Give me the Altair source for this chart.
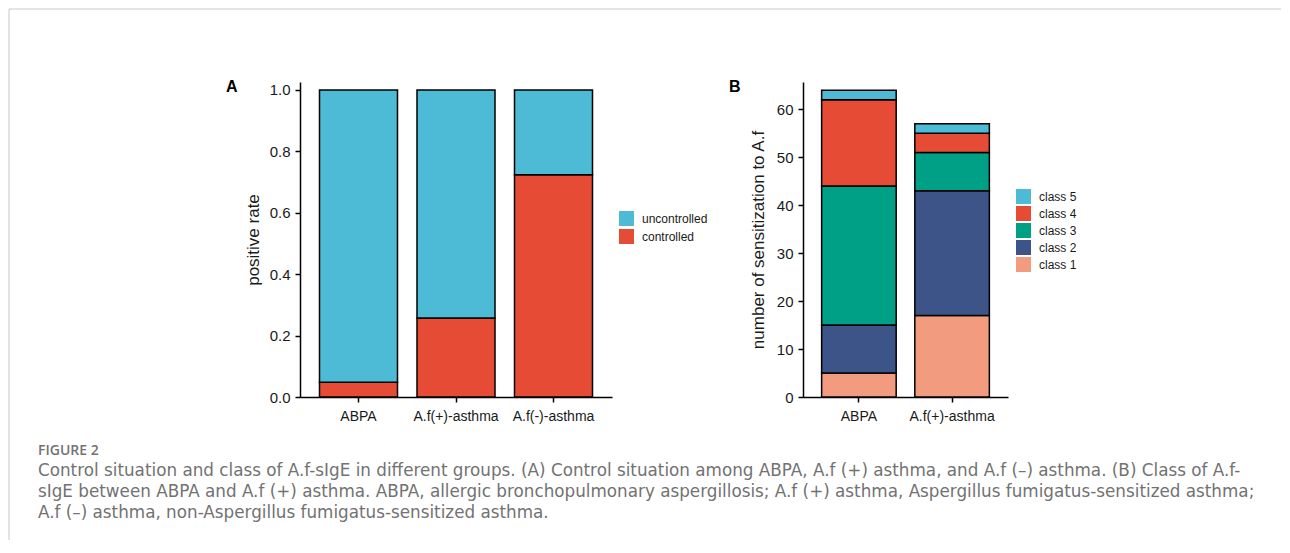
import altair as alt
import pandas as pd

# ---------------- data ----------------
GROUPS_A = ["ABPA", "A.f(+)-asthma", "A.f(-)-asthma"]
CONTROLLED = [0.048, 0.257, 0.724]
UNCONTROLLED = [0.952, 0.743, 0.276]
STATUS = ["uncontrolled", "controlled"]
STATUS_COLORS = ["#4DBBD5", "#E64B35"]

GROUPS_B = ["ABPA", "A.f(+)-asthma"]
CLASSES = ["class 5", "class 4", "class 3", "class 2", "class 1"]
CLASS_COLORS = ["#4DBBD5", "#E64B35", "#00A087", "#3C5488", "#F39B7F"]
CLASS1 = [5, 17]
CLASS2 = [10, 26]
CLASS3 = [29, 8]
CLASS4 = [18, 4]
CLASS5 = [2, 2]

Y_TICKS_A = [0.0, 0.2, 0.4, 0.6, 0.8, 1.0]
Y_TICKS_B = [0, 10, 20, 30, 40, 50, 60]

CAPTION_HEAD = "FIGURE 2"
CAPTION_LINES = [
    "Control situation and class of A.f-sIgE in different groups. (A) Control situation among ABPA, A.f (+) asthma, and A.f (\u2013) asthma. (B) Class of A.f-",
    "sIgE between ABPA and A.f (+) asthma. ABPA, allergic bronchopulmonary aspergillosis; A.f (+) asthma, Aspergillus fumigatus-sensitized asthma;",
    "A.f (\u2013) asthma, non-Aspergillus fumigatus-sensitized asthma.",
]

FONT = "Liberation Sans"
CAP_FONT = "DejaVu Sans"
HEAD_FONT = "Open Sans"
CAP_COLOR = "#727272"

# ---------------- tables ----------------
rows_a = []
for g, c, u in zip(GROUPS_A, CONTROLLED, UNCONTROLLED):
    rows_a.append({"group": g, "status": "controlled", "value": c, "ord": 0})
    rows_a.append({"group": g, "status": "uncontrolled", "value": u, "ord": 1})
df_a = pd.DataFrame(rows_a)

series_b = {"class 1": CLASS1, "class 2": CLASS2, "class 3": CLASS3,
            "class 4": CLASS4, "class 5": CLASS5}
rows_b = []
for k, cls in enumerate(["class 1", "class 2", "class 3", "class 4", "class 5"]):
    for g, v in zip(GROUPS_B, series_b[cls]):
        rows_b.append({"group": g, "cls": cls, "value": v, "ord": k})
df_b = pd.DataFrame(rows_b)

W_A, W_B, H = 312, 205, 315

axis_common = dict(
    domainColor="black", domainWidth=1.5, tickColor="black", tickWidth=1.5,
    tickSize=5, labelFont=FONT, labelColor="#1a1a1a", grid=False,
)


def x_axis():
    return alt.Axis(title=None, labelAngle=0, labelFontSize=14, labelPadding=7,
                    **axis_common)


def legend(x, y, gap):
    return alt.Legend(
        title=None, orient="none", legendX=x, legendY=y, symbolType="square",
        symbolSize=225, symbolStrokeWidth=0, labelFontSize=12, labelFont=FONT,
        labelColor="#1a1a1a", labelOffset=8, rowPadding=gap, padding=0,
    )


def label(txt, x, y, size, weight="normal", color="black", font=FONT):
    return alt.Chart(pd.DataFrame({"t": [txt]})).mark_text(
        align="left", baseline="alphabetic", fontSize=size, fontWeight=weight,
        color=color, font=font,
    ).encode(text="t:N", x=alt.value(x), y=alt.value(y))


# ---------------- panel A ----------------
bars_a = alt.Chart(df_a).mark_bar(stroke="black", strokeWidth=1.5).encode(
    x=alt.X("group:N", sort=GROUPS_A,
            scale=alt.Scale(paddingInner=0.2, paddingOuter=0.2), axis=x_axis()),
    y=alt.Y("value:Q", stack="zero",
            scale=alt.Scale(domain=[0, 1.026], nice=False),
            axis=alt.Axis(values=Y_TICKS_A, format=".1f", title="positive rate",
                          labelFontSize=15, labelPadding=5, titleFont=FONT,
                          titleFontSize=17, titleFontWeight="normal",
                          titleColor="#1a1a1a", titleAngle=270,
                          titleBaseline="middle", titleAlign="center",
                          titleX=-47, titleY=H / 2, **axis_common)),
    color=alt.Color("status:N",
                    scale=alt.Scale(domain=STATUS, range=STATUS_COLORS),
                    legend=legend(W_A + 7, 129, 3)),
    order=alt.Order("ord:Q", sort="ascending"),
)

frame_top = alt.Chart(pd.DataFrame({"k": [0]})).mark_rule(
    color="#c8c8c8", strokeWidth=1).encode(
    x=alt.value(-291), x2=alt.value(981), y=alt.value(-73))
frame_left = alt.Chart(pd.DataFrame({"k": [0]})).mark_rule(
    color="#c8c8c8", strokeWidth=1).encode(
    x=alt.value(-291), y=alt.value(-73), y2=alt.value(458))

layers_a = [bars_a, frame_top, frame_left,
            label("A", -74, 10, 16, "bold"),
            label(CAPTION_HEAD, -262, 373, 14, 600, CAP_COLOR, HEAD_FONT)]
for i, line in enumerate(CAPTION_LINES):
    layers_a.append(label(line, -262, 394 + 21 * i, 16.8, "normal", CAP_COLOR, CAP_FONT))

chart_a = alt.layer(*layers_a).properties(width=W_A, height=H)

# ---------------- panel B ----------------
bars_b = alt.Chart(df_b).mark_bar(stroke="black", strokeWidth=1.5).encode(
    x=alt.X("group:N", sort=GROUPS_B,
            scale=alt.Scale(paddingInner=0.2, paddingOuter=0.2), axis=x_axis()),
    y=alt.Y("value:Q", stack="zero",
            scale=alt.Scale(domain=[0, 65.7], nice=False),
            axis=alt.Axis(values=Y_TICKS_B, format="d",
                          title="number of sensitization to A.f",
                          labelFontSize=15, labelPadding=5, titleFont=FONT,
                          titleFontSize=17, titleFontWeight="normal",
                          titleColor="#1a1a1a", titleAngle=270,
                          titleBaseline="middle", titleAlign="center",
                          titleX=-45, titleY=H / 2, **axis_common)),
    color=alt.Color("cls:N",
                    scale=alt.Scale(domain=CLASSES, range=CLASS_COLORS),
                    legend=legend(W_B + 8, 107, 2)),
    order=alt.Order("ord:Q", sort="ascending"),
)

chart_b = alt.layer(bars_b, label("B", -74, 10, 16, "bold")).properties(
    width=W_B, height=H)

chart = alt.hconcat(chart_a, chart_b, spacing=191, bounds="flush").resolve_scale(
    color="independent").properties(padding=0).configure_view(stroke=None)

chart.save("out.html", embed_options={"renderer": "svg", "actions": False})
